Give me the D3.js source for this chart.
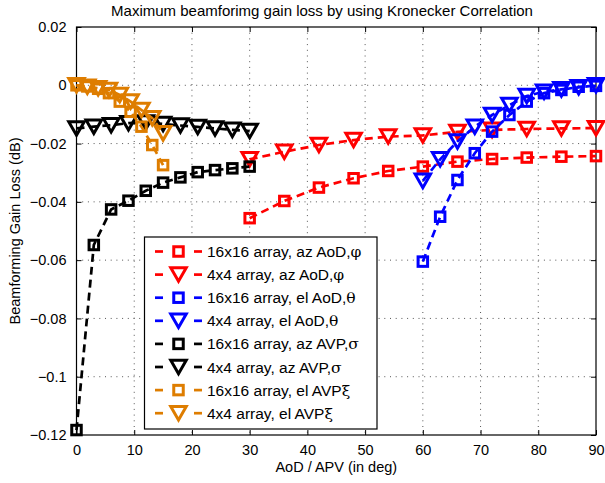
<!DOCTYPE html>
<html><head><meta charset="utf-8">
<script src="https://cdn.jsdelivr.net/npm/d3@7"></script>
<style>
body{margin:0;background:#fff;}
svg{display:block;font-family:"Liberation Sans",Arial,sans-serif;}
</style></head>
<body>
<svg id="chart" width="605" height="483"></svg>
<script>
// ---- data ----
const xAzAoD = [30,36,42,48,54,60,66,72,78,84,90];
const azAoD16 = [-0.0456,-0.0397,-0.0351,-0.0319,-0.0294,-0.0279,-0.0262,-0.0253,-0.0248,-0.0245,-0.0243];
const azAoD4  = [-0.0254,-0.0228,-0.0205,-0.0188,-0.0176,-0.0172,-0.0160,-0.0153,-0.0150,-0.0148,-0.0147];
const xElAoD = [60,63,66,69,72,75,78,81,84,87,90];
const elAoD16 = [-0.0605,-0.0451,-0.0325,-0.0233,-0.0159,-0.0102,-0.0056,-0.0027,-0.0016,-0.0005,-0.0002];
const elAoD4  = [-0.0328,-0.0254,-0.0193,-0.0142,-0.0102,-0.0068,-0.0037,-0.0022,-0.0014,-0.0007,0.0000];
const xAzAVP = [0,3,6,9,12,15,18,21,24,27,30];
const azAVP16 = [-0.1183,-0.0548,-0.0426,-0.0396,-0.0362,-0.0334,-0.0316,-0.0298,-0.0291,-0.0285,-0.0279];
const azAVP4  = [-0.0148,-0.0142,-0.0137,-0.0130,-0.0128,-0.0133,-0.0138,-0.0143,-0.0148,-0.0153,-0.0157];
const xElAVP = [0,1.875,3.75,5.625,7.5,9.375,11.25,13.125,15];
const elAVP16 = [0,-0.0004,-0.0012,-0.0027,-0.0056,-0.0091,-0.0142,-0.0205,-0.0274];
const elAVP4  = [0,-0.0005,-0.0010,-0.0016,-0.0033,-0.0056,-0.0085,-0.0113,-0.0165];

const seriesNames = ["16x16 array, az AoD,", "4x4 array, az AoD,", "16x16 array, el AoD,", "4x4 array, el AoD,",
                     "16x16 array, az AVP,", "4x4 array, az AVP,", "16x16 array, el AVP", "4x4 array, el AVP"];
const seriesGreek = ["\u03C6","\u03C6","\u03B8","\u03B8","\u03C3","\u03C3","\u03BE","\u03BE"];
const xTicks = [0,10,20,30,40,50,60,70,80,90];
const yTicks = [0.02,0,-0.02,-0.04,-0.06,-0.08,-0.1,-0.12];
const yTickLabels = ["0.02","0","\u22120.02","\u22120.04","\u22120.06","\u22120.08","\u22120.1","\u22120.12"];
const titleText = "Maximum beamforimg gain loss by using Kronecker Correlation";
const xLabel = "AoD / APV (in deg)";
const yLabel = "Beamforming Gain Loss (dB)";

// ---- styles ----
const RED = "#ff0000", BLUE = "#0000ff", BLACK = "#000000", ORANGE = "rgb(222,125,0)";
const series = [
  {x:xAzAoD, y:azAoD16, c:RED, m:"sq"},
  {x:xAzAoD, y:azAoD4, c:RED, m:"tri"},
  {x:xElAoD, y:elAoD16, c:BLUE, m:"sq"},
  {x:xElAoD, y:elAoD4, c:BLUE, m:"tri"},
  {x:xAzAVP, y:azAVP16, c:BLACK, m:"sq"},
  {x:xAzAVP, y:azAVP4, c:BLACK, m:"tri"},
  {x:xElAVP, y:elAVP16, c:ORANGE, m:"sq"},
  {x:xElAVP, y:elAVP4, c:ORANGE, m:"tri"}
];

const L = 76.5, R = 596, T = 27, B = 435;
const svg = d3.select("#chart");
const x = d3.scaleLinear().domain([0,90]).range([L,R]);
const y = d3.scaleLinear().domain([-0.12,0.02]).range([B,T]);

// grid
const grid = svg.append("g");
grid.selectAll("line.gx").data(xTicks.slice(1,-1)).enter().append("line")
  .attr("x1",d=>x(d)).attr("x2",d=>x(d)).attr("y1",T).attr("y2",B)
  .attr("stroke","#555").attr("stroke-width",1).attr("stroke-dasharray","1,4.7");
grid.selectAll("line.gy").data(yTicks.slice(1,-1)).enter().append("line")
  .attr("y1",d=>y(d)).attr("y2",d=>y(d)).attr("x1",L).attr("x2",R)
  .attr("stroke","#555").attr("stroke-width",1).attr("stroke-dasharray","1,4.7");

// axes
const fmtX = d=>String(d);
const xAxisB = d3.axisBottom(x).tickValues(xTicks).tickSize(-5).tickPadding(10).tickFormat(fmtX);
const xAxisT = d3.axisTop(x).tickValues(xTicks).tickSize(-5).tickFormat("");
const yAxisL = d3.axisLeft(y).tickValues(yTicks).tickSize(-5).tickPadding(10).tickFormat((d,i)=>yTickLabels[i]);
const yAxisR = d3.axisRight(y).tickValues(yTicks).tickSize(-5).tickFormat("");
function styleAxis(g){
  g.select(".domain").remove();
  g.selectAll(".tick line").attr("stroke","#000").attr("stroke-width",1);
  g.selectAll(".tick text").attr("fill","#000").style("font-size","14.5px").style("font-family","'Liberation Sans',Arial,sans-serif");
}
svg.append("g").attr("transform",`translate(0,${B})`).call(xAxisB).call(styleAxis);
svg.append("g").attr("transform",`translate(0,${T})`).call(xAxisT).call(styleAxis);
svg.append("g").attr("transform",`translate(${L},0)`).call(yAxisL).call(styleAxis);
svg.append("g").attr("transform",`translate(${R},0)`).call(yAxisR).call(styleAxis);
svg.append("rect").attr("x",L).attr("y",T).attr("width",R-L).attr("height",B-T)
  .attr("fill","none").attr("stroke","#000").attr("stroke-width",1.2);

// markers
function drawMarker(g, px, py, type, color){
  if(type==="sq"){
    const s = 9.5;
    g.append("rect").attr("x",px-s/2).attr("y",py-s/2).attr("width",s).attr("height",s)
      .attr("fill","none").attr("stroke",color).attr("stroke-width",3);
  } else {
    const w = 15.5, h = 13.5;
    g.append("path").attr("d",`M${px-w/2},${py-h/2}L${px+w/2},${py-h/2}L${px},${py+h/2}Z`)
      .attr("fill","none").attr("stroke",color).attr("stroke-width",3).attr("stroke-linejoin","miter");
  }
}

const plot = svg.append("g");
const line = d3.line().x(d=>x(d[0])).y(d=>y(d[1]));
series.forEach(s=>{
  const g = plot.append("g");
  const pts = s.x.map((v,i)=>[v,s.y[i]]);
  g.append("path").attr("d",line(pts)).attr("fill","none").attr("stroke",s.c)
    .attr("stroke-width",2.7).attr("stroke-dasharray","8,5");
  pts.forEach(p=>drawMarker(g, x(p[0]), y(p[1]), s.m, s.c));
});

// legend
const lg = svg.append("g");
lg.append("rect").attr("x",144.5).attr("y",237).attr("width",232.5).attr("height",192)
  .attr("fill","#fff").attr("stroke","#000").attr("stroke-width",1.2);
series.forEach((s,i)=>{
  const cy = 251.5 + i*23.1;
  lg.append("line").attr("x1",155).attr("x2",163).attr("y1",cy).attr("y2",cy).attr("stroke",s.c).attr("stroke-width",2.7);
  lg.append("line").attr("x1",194).attr("x2",202).attr("y1",cy).attr("y2",cy).attr("stroke",s.c).attr("stroke-width",2.7);
  drawMarker(lg, 178.5, cy, s.m, s.c);
  const t = lg.append("text").attr("x",207).attr("y",cy+5.5).style("font-size","15.5px").attr("fill","#000");
  t.append("tspan").text(seriesNames[i]);
  t.append("tspan").style("font-family","'DejaVu Serif','Liberation Serif',serif").style("font-size","15.5px").text(seriesGreek[i]);
});

// titles
svg.append("text").attr("x",322).attr("y",16).attr("text-anchor","middle")
  .style("font-size","15px").text(titleText);
svg.append("text").attr("x",(L+R)/2).attr("y",472).attr("text-anchor","middle")
  .style("font-size","14.5px").text(xLabel);
svg.append("text").attr("transform",`translate(20,${(T+B)/2}) rotate(-90)`).attr("text-anchor","middle")
  .style("font-size","14.5px").text(yLabel);
</script>
</body></html>
